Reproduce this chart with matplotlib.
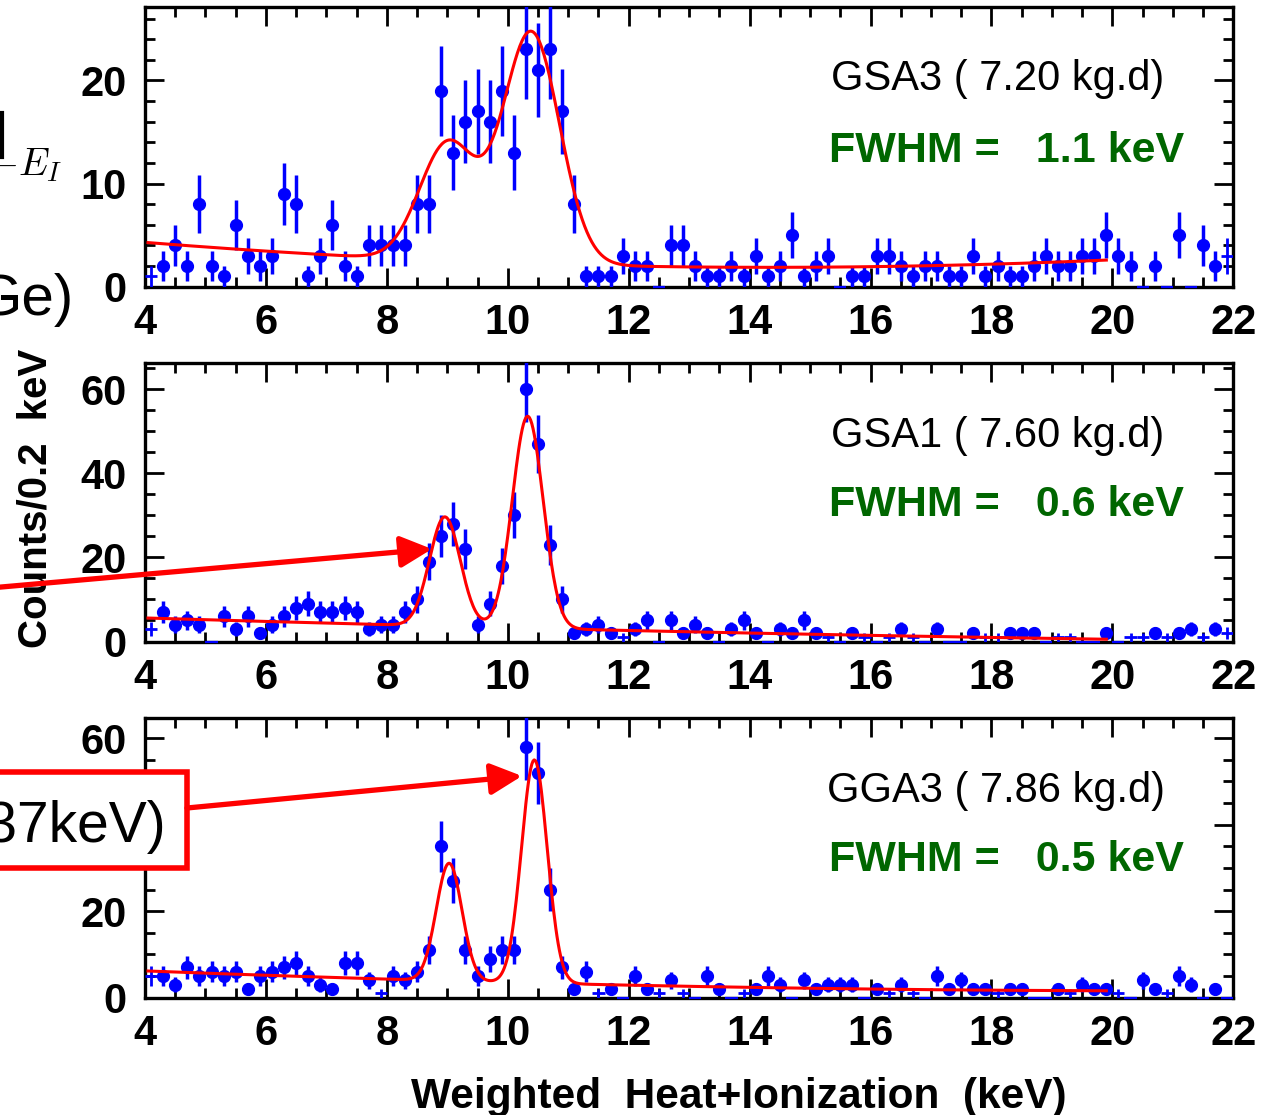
import numpy as np
import matplotlib
matplotlib.use("Agg")
import matplotlib.pyplot as plt
from matplotlib.patches import FancyArrowPatch, Rectangle
from matplotlib.lines import Line2D
from matplotlib.ticker import MultipleLocator

plt.rcParams["font.family"] = ["Liberation Sans", "DejaVu Sans"]
plt.rcParams["font.weight"] = "bold"
plt.rcParams["mathtext.fontset"] = "cm"

FIG_W, FIG_H, DPI = 1265, 1115, 100

# Energy binning of the spectra (keV)
E_MIN, E_MAX, BIN_WIDTH = 4.0, 22.0, 0.2

# Counts per 0.2 keV bin, from 4.1 keV to 21.9 keV
counts_gsa3 = [1, 2, 4, 2, 8, 2, 1, 6, 3, 2,
               3, 9, 8, 1, 3, 6, 2, 1, 4, 4,
               4, 4, 8, 8, 19, 13, 16, 17, 16, 19,
               13, 23, 21, 23, 17, 8, 1, 1, 1, 3,
               2, 2, 0, 4, 4, 2, 1, 1, 2, 1,
               3, 1, 2, 5, 1, 2, 3, 0, 1, 1,
               3, 3, 2, 1, 2, 2, 1, 1, 3, 1,
               2, 1, 1, 2, 3, 2, 2, 3, 3, 5,
               3, 2, 0, 2, 0, 5, 0, 4, 2, 3]
counts_gsa1 = [3, 7, 4, 5, 4, 0, 6, 3, 6, 2,
               4, 6, 8, 9, 7, 7, 8, 7, 3, 4,
               4, 7, 10, 19, 25, 28, 22, 4, 9, 18,
               30, 60, 47, 23, 10, 2, 3, 4, 2, 1,
               3, 5, 0, 5, 2, 4, 2, 0, 3, 5,
               2, 0, 3, 2, 5, 2, 1, 0, 2, 1,
               0, 1, 3, 1, 0, 3, 0, 0, 2, 1,
               1, 2, 2, 2, 0, 1, 1, 0, 0, 2,
               0, 1, 1, 2, 1, 2, 3, 1, 3, 2]
counts_gga3 = [5, 5, 3, 7, 5, 6, 5, 6, 2, 5,
               6, 7, 8, 5, 3, 2, 8, 8, 4, 1,
               5, 4, 6, 11, 35, 27, 11, 5, 9, 11,
               11, 58, 52, 25, 7, 2, 6, 1, 2, 0,
               5, 2, 1, 4, 1, 0, 5, 2, 0, 1,
               2, 5, 3, 0, 4, 2, 3, 3, 3, 0,
               2, 1, 3, 1, 0, 5, 2, 4, 2, 2,
               1, 2, 2, 0, 0, 2, 1, 3, 2, 2,
               1, 0, 4, 2, 1, 5, 3, 0, 2, 0]

# Bins drawn as crosses (bin-width bar plus error bar, no marker)
cross_bins_gsa3 = [4.1, 21.9]
cross_bins_gsa1 = [4.1, 11.9, 15.3, 15.9, 16.3, 16.7, 17.9, 18.1, 19.1, 19.3,
                   20.3, 20.5, 20.9, 21.5, 21.9]
cross_bins_gga3 = [4.1, 7.9, 11.5, 12.5, 12.9, 13.9, 16.3, 16.7, 18.1, 19.3,
                   20.1, 20.9]

detectors = ["GSA3", "GSA1", "GGA3"]
exposure_kgd = [7.20, 7.60, 7.86]
fwhm_kev = [1.1, 0.6, 0.5]

# Fit model: quadratic background + two gaussian lines (Zn K and Ga K)
peak1_kev = [9.01, 8.96, 9.03]
peak2_kev = [10.39, 10.33, 10.44]
peak1_amp = [11.4, 26.0, 27.2]
peak2_amp = [22.4, 50.4, 51.6]
bkg_coef = [(4.3, -0.469, 0.0227), (5.6, -0.428, 0.0069), (6.2, -0.537, 0.0156)]
FIT_LO, FIT_HI = 4.05, 19.9

y_top = [27.15, 66.3, 64.6]
y_major = [10, 20, 20]
y_minor = [2, 5, 5]

all_counts = [counts_gsa3, counts_gsa1, counts_gga3]
all_cross = [cross_bins_gsa3, cross_bins_gsa1, cross_bins_gga3]

BLUE = "#0000ff"
RED = "#ff0000"
GREEN = "#006600"


def fx(px):
    return px / FIG_W


def fy(py):
    return 1.0 - py / FIG_H


def fit_model(x, i):
    sigma = fwhm_kev[i] / (2.0 * np.sqrt(2.0 * np.log(2.0)))
    u = x - E_MIN
    c0, c1, c2 = bkg_coef[i]
    y = c0 + c1 * u + c2 * u ** 2
    for mu, amp in ((peak1_kev[i], peak1_amp[i]), (peak2_kev[i], peak2_amp[i])):
        y = y + amp * np.exp(-0.5 * ((x - mu) / sigma) ** 2)
    return y


fig = plt.figure(figsize=(FIG_W / DPI, FIG_H / DPI), dpi=DPI)

ax_left, ax_right = 145, 1233.3
panel_px = [(6.7, 286.7), (362.7, 641.5), (718.3, 997.7)]
name_pos = [(831, 90), (831, 447), (827, 802)]
fwhm_pos = [(829, 162), (829, 516), (829, 871)]

axes = []
for i in range(3):
    top, bot = panel_px[i]
    ax = fig.add_axes([fx(ax_left), fy(bot), fx(ax_right) - fx(ax_left),
                       fy(top) - fy(bot)])
    axes.append(ax)
    counts = np.asarray(all_counts[i], dtype=float)
    centers = E_MIN + BIN_WIDTH * (np.arange(len(counts)) + 0.5)
    is_cross = np.array([np.any(np.isclose(c, all_cross[i])) for c in centers])
    zero = counts == 0
    dot = (~zero) & (~is_cross)
    cross = (~zero) & is_cross

    ax.errorbar(centers[dot], counts[dot], yerr=np.sqrt(counts[dot]), fmt="o",
                color=BLUE, ms=8.5, mec=BLUE, elinewidth=2.5, capsize=0, zorder=3)
    ax.errorbar(centers[cross], counts[cross], xerr=BIN_WIDTH / 2,
                yerr=np.sqrt(counts[cross]), fmt="none", ecolor=BLUE,
                elinewidth=2.0, capsize=0, zorder=3)
    ax.errorbar(centers[zero], counts[zero], xerr=BIN_WIDTH / 2, fmt="none",
                ecolor=BLUE, elinewidth=1.6, capsize=0, zorder=3, clip_on=False)

    xf = np.linspace(FIT_LO, FIT_HI, 800)
    ax.plot(xf, fit_model(xf, i), color=RED, lw=2.2, zorder=4)

    ax.set_xlim(E_MIN, E_MAX)
    ax.set_ylim(0, y_top[i])
    ax.xaxis.set_major_locator(MultipleLocator(2))
    ax.xaxis.set_minor_locator(MultipleLocator(0.5))
    ax.yaxis.set_major_locator(MultipleLocator(y_major[i]))
    ax.yaxis.set_minor_locator(MultipleLocator(y_minor[i]))
    ax.tick_params(which="both", direction="in", top=True, right=True,
                   width=2.0, color="black")
    ax.tick_params(which="major", length=14, labelsize=30)
    ax.tick_params(axis="x", which="major", pad=12)
    ax.tick_params(axis="y", which="major", pad=13)
    ax.tick_params(which="minor", length=7)
    for sp in ax.spines.values():
        sp.set_linewidth(2.4)

    fig.text(fx(name_pos[i][0]), fy(name_pos[i][1]),
             f"{detectors[i]} ( {exposure_kgd[i]:.2f} kg.d)",
             fontsize=30, fontweight="normal", color="black",
             ha="left", va="baseline")
    fig.text(fx(fwhm_pos[i][0]), fy(fwhm_pos[i][1]),
             f"FWHM =   {fwhm_kev[i]:.1f} keV",
             fontsize=31, fontweight="bold", color=GREEN,
             ha="left", va="baseline")

# The 40 label of the bottom panel sits under the line-label box
fig.canvas.draw()
for lab in axes[2].get_yticklabels():
    if lab.get_text() in ("40", "\N{MINUS SIGN}40"):
        lab.set_visible(False)
axes[2].yaxis.set_major_formatter(
    matplotlib.ticker.FuncFormatter(lambda v, p: "" if abs(v - 40) < 1e-6 else f"{v:.0f}"))

# Axis titles
fig.text(fx(739), fy(1108), "Weighted  Heat+Ionization  (keV)",
         fontsize=30.5, fontweight="bold", ha="center", va="baseline")
fig.text(fx(47), fy(498), "Counts/0.2  keV", fontsize=29, fontweight="bold",
         rotation=90, rotation_mode="anchor", ha="center", va="baseline")

# Slide text around the figure
fig.text(fx(73), fy(315), "Ge)", fontsize=42, fontweight="normal",
         ha="right", va="baseline")
fig.text(fx(63), fy(175), r"$-E_I$", fontsize=28, ha="right", va="baseline")
fig.add_artist(Line2D([fx(2), fx(2)], [fy(113), fy(157)], color="black",
                      lw=3.0, transform=fig.transFigure))

# Line labels with arrows
box = Rectangle((fx(-20), fy(868)), fx(187) - fx(-20), fy(772) - fy(868),
                transform=fig.transFigure, facecolor="white", edgecolor=RED,
                lw=4.0, zorder=10)
fig.add_artist(box)
fig.text(fx(166), fy(842), "(10.37keV)", fontsize=41, fontweight="normal",
         ha="right", va="baseline", zorder=11)

for (xa, ya), (xb, yb) in (((-10, 588), (432, 549)), ((187, 808), (522, 776))):
    arr = FancyArrowPatch((fx(xa), fy(ya)), (fx(xb), fy(yb)),
                          transform=fig.transFigure,
                          arrowstyle="-|>,head_length=19,head_width=9.5",
                          mutation_scale=1, color=RED, lw=3.8,
                          shrinkA=0, shrinkB=0, zorder=12)
    fig.add_artist(arr)

fig.savefig("out.png", dpi=DPI)
